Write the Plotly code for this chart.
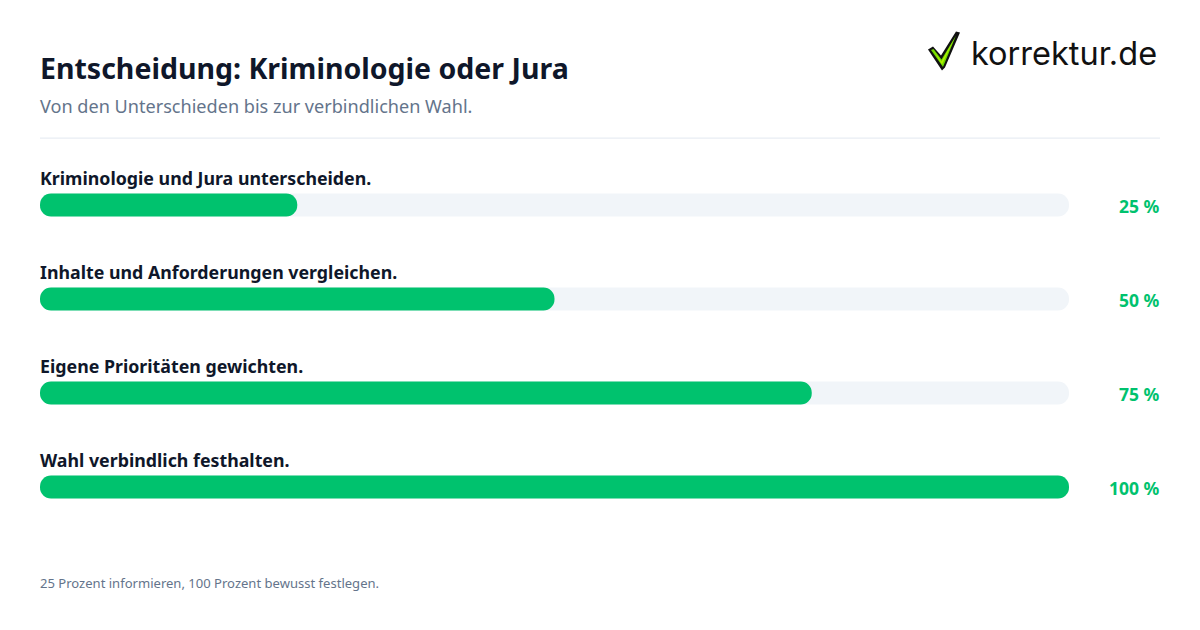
import plotly.graph_objects as go

###### DATA #####
steps = [
    "Kriminologie und Jura unterscheiden.",
    "Inhalte und Anforderungen vergleichen.",
    "Eigene Prioritäten gewichten.",
    "Wahl verbindlich festhalten.",
]
percent = [25, 50, 75, 100]
track = [100, 100, 100, 100]
percent_labels = ["25 %", "50 %", "75 %", "100 %"]
title = "Entscheidung: Kriminologie oder Jura"
subtitle = "Von den Unterschieden bis zur verbindlichen Wahl."
footer = "25 Prozent informieren, 100 Prozent bewusst festlegen."
###### DATA #####

W, H = 1200, 630
ML, MR, MT, MB = 40, 131, 158.4, 95.6
FONT = "Noto Sans"
GREEN = "#00c26e"
DARK = "#0f172a"
GREY = "#64748b"


# pixel position on the page -> paper coordinates
def px(x):
    return (x - ML) / (W - ML - MR)


def py(y):
    return 1 - (y - MT) / (H - MT - MB)


def path(points):
    return "M " + " L ".join(f"{px(x):.5f},{py(y):.5f}" for x, y in points) + " Z"


def page_text(x, y, text, size, color, weight=400, family=FONT):
    fig.add_annotation(
        xref="paper", yref="paper", x=px(x), y=py(y), text=text, showarrow=False,
        xanchor="left", yanchor="middle", xshift=-2,
        font=dict(family=family, size=size, color=color, weight=weight),
    )


def add_bar(values, color):
    # an explicit base makes plotly round both ends of the bar
    fig.add_trace(go.Bar(y=steps, x=values, base=0, orientation="h", width=0.245,
                         marker=dict(color=color, cornerradius="50%", line_width=0),
                         hoverinfo="skip"))


fig = go.Figure()
add_bar(track, "#f1f5f9")
add_bar(percent, GREEN)

fig.update_layout(
    width=W, height=H, autosize=False, barmode="overlay", showlegend=False,
    paper_bgcolor="white", plot_bgcolor="white",
    margin=dict(l=ML, r=MR, t=MT, b=MB, pad=0),
    font=dict(family=FONT),
    xaxis=dict(range=[0, 100], visible=False),
    yaxis=dict(visible=False, type="category", categoryorder="array", categoryarray=steps,
               range=[3.5, -0.5]),
)

for step, label in zip(steps, percent_labels):
    # step text above the bar, value to the right of the track
    fig.add_annotation(
        x=0, y=step, xref="x", yref="y", text=step, showarrow=False,
        xanchor="left", yanchor="middle", xshift=-2, yshift=27,
        font=dict(family=FONT, size=17.8, color=DARK, weight=700),
    )
    fig.add_annotation(
        x=100, y=step, xref="x", yref="y", text=label, showarrow=False,
        xanchor="right", yanchor="middle", xshift=93, yshift=-1,
        font=dict(family=FONT, size=17.5, color=GREEN, weight=700),
    )

page_text(40, 68, title, 28.5, DARK, 700)
page_text(40, 106, subtitle, 18.1, GREY)
page_text(40, 583.5, footer, 13.05, GREY)
page_text(971, 53.5, "korrektur.de", 32.5, "#111111", family="Inter")

fig.add_shape(type="line", xref="paper", yref="paper", x0=px(40), x1=px(1160), y0=py(138.5), y1=py(138.5),
              line=dict(color="#e2e8f0", width=1))

# logo check mark
fig.add_shape(type="path", xref="paper", yref="paper", fillcolor="#111111", line_width=0,
              path=path([(928, 50), (933, 47), (941, 56), (956, 32), (960, 33), (945, 68), (942, 71)]))
fig.add_shape(type="path", xref="paper", yref="paper", fillcolor="#6fd800", line_width=0,
              path=path([(931, 50.5), (933.5, 49.5), (941.5, 60), (956, 36), (943, 67.5)]))
fig.add_shape(type="path", xref="paper", yref="paper", fillcolor="#b4f000", line_width=0,
              path=path([(933, 50.5), (941.5, 62), (954, 40), (942, 65)]))

fig.write_html("out.html", config=dict(displayModeBar=False),
               post_script="document.body.style.margin='0';")
